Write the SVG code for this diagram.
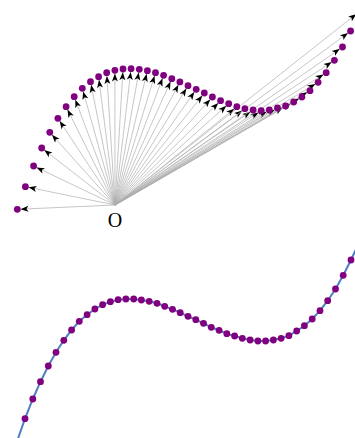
<svg xmlns="http://www.w3.org/2000/svg" width="355" height="438" viewBox="0 0 355 438">
<style>
.conn line{stroke:#adadad;stroke-width:0.7;fill:none;marker-end:url(#ah)}
.pt circle{fill:#800080}
.curve{fill:none;stroke:#4f7fbf;stroke-width:2}
.lbl{font-family:"Liberation Serif",serif;font-size:20px;fill:#000}
</style>
<defs>
<marker id="ah" markerUnits="userSpaceOnUse" markerWidth="12" markerHeight="7" refX="11.2" refY="3" orient="auto" overflow="visible">
<path d="M0,0 L8,3 L0,6 L2,3 z" fill="#000"/>
</marker>
</defs>
<rect width="355" height="438" fill="#fff"/>
<g id="connectors" class="conn">
<line x1="115" y1="205" x2="17.3" y2="209.3"/>
<line x1="115" y1="205" x2="25.4" y2="186.7"/>
<line x1="115" y1="205" x2="33.6" y2="166"/>
<line x1="115" y1="205" x2="41.7" y2="148"/>
<line x1="115" y1="205" x2="49.8" y2="132.3"/>
<line x1="115" y1="205" x2="57.9" y2="118.3"/>
<line x1="115" y1="205" x2="66.1" y2="106.7"/>
<line x1="115" y1="205" x2="74.2" y2="96.7"/>
<line x1="115" y1="205" x2="82.3" y2="88.3"/>
<line x1="115" y1="205" x2="90.5" y2="81.7"/>
<line x1="115" y1="205" x2="98.6" y2="76.7"/>
<line x1="115" y1="205" x2="106.7" y2="72.7"/>
<line x1="115" y1="205" x2="114.9" y2="70.3"/>
<line x1="115" y1="205" x2="123" y2="69"/>
<line x1="115" y1="205" x2="131.1" y2="68.7"/>
<line x1="115" y1="205" x2="139.3" y2="69.3"/>
<line x1="115" y1="205" x2="147.4" y2="70.7"/>
<line x1="115" y1="205" x2="155.5" y2="72.7"/>
<line x1="115" y1="205" x2="163.6" y2="75.3"/>
<line x1="115" y1="205" x2="171.8" y2="78.7"/>
<line x1="115" y1="205" x2="179.9" y2="81.9"/>
<line x1="115" y1="205" x2="188" y2="85.7"/>
<line x1="115" y1="205" x2="196.2" y2="89.3"/>
<line x1="115" y1="205" x2="204.3" y2="93"/>
<line x1="115" y1="205" x2="212.4" y2="97"/>
<line x1="115" y1="205" x2="220.6" y2="100.7"/>
<line x1="115" y1="205" x2="228.7" y2="103.7"/>
<line x1="115" y1="205" x2="236.8" y2="106.7"/>
<line x1="115" y1="205" x2="244.9" y2="108.7"/>
<line x1="115" y1="205" x2="253.1" y2="110"/>
<line x1="115" y1="205" x2="261.2" y2="110.7"/>
<line x1="115" y1="205" x2="269.3" y2="110"/>
<line x1="115" y1="205" x2="277.5" y2="108"/>
<line x1="115" y1="205" x2="285.6" y2="106"/>
<line x1="115" y1="205" x2="293.7" y2="102"/>
<line x1="115" y1="205" x2="301.9" y2="97"/>
<line x1="115" y1="205" x2="310" y2="90.7"/>
<line x1="115" y1="205" x2="318.1" y2="82.3"/>
<line x1="115" y1="205" x2="326.2" y2="72.7"/>
<line x1="115" y1="205" x2="334.4" y2="60.3"/>
<line x1="115" y1="205" x2="342.5" y2="47"/>
<line x1="115" y1="205" x2="350.6" y2="31"/>
<line x1="115" y1="205" x2="358.8" y2="12"/>
</g>
<g id="O"><text class="lbl" x="115" y="227" text-anchor="middle">O</text></g>
<g id="points" class="pt">
<g id="p0"><circle cx="17.3" cy="209.3" r="3.4"/></g>
<g id="p1"><circle cx="25.4" cy="186.7" r="3.4"/></g>
<g id="p2"><circle cx="33.6" cy="166" r="3.4"/></g>
<g id="p3"><circle cx="41.7" cy="148" r="3.4"/></g>
<g id="p4"><circle cx="49.8" cy="132.3" r="3.4"/></g>
<g id="p5"><circle cx="57.9" cy="118.3" r="3.4"/></g>
<g id="p6"><circle cx="66.1" cy="106.7" r="3.4"/></g>
<g id="p7"><circle cx="74.2" cy="96.7" r="3.4"/></g>
<g id="p8"><circle cx="82.3" cy="88.3" r="3.4"/></g>
<g id="p9"><circle cx="90.5" cy="81.7" r="3.4"/></g>
<g id="p10"><circle cx="98.6" cy="76.7" r="3.4"/></g>
<g id="p11"><circle cx="106.7" cy="72.7" r="3.4"/></g>
<g id="p12"><circle cx="114.9" cy="70.3" r="3.4"/></g>
<g id="p13"><circle cx="123" cy="69" r="3.4"/></g>
<g id="p14"><circle cx="131.1" cy="68.7" r="3.4"/></g>
<g id="p15"><circle cx="139.3" cy="69.3" r="3.4"/></g>
<g id="p16"><circle cx="147.4" cy="70.7" r="3.4"/></g>
<g id="p17"><circle cx="155.5" cy="72.7" r="3.4"/></g>
<g id="p18"><circle cx="163.6" cy="75.3" r="3.4"/></g>
<g id="p19"><circle cx="171.8" cy="78.7" r="3.4"/></g>
<g id="p20"><circle cx="179.9" cy="81.9" r="3.4"/></g>
<g id="p21"><circle cx="188" cy="85.7" r="3.4"/></g>
<g id="p22"><circle cx="196.2" cy="89.3" r="3.4"/></g>
<g id="p23"><circle cx="204.3" cy="93" r="3.4"/></g>
<g id="p24"><circle cx="212.4" cy="97" r="3.4"/></g>
<g id="p25"><circle cx="220.6" cy="100.7" r="3.4"/></g>
<g id="p26"><circle cx="228.7" cy="103.7" r="3.4"/></g>
<g id="p27"><circle cx="236.8" cy="106.7" r="3.4"/></g>
<g id="p28"><circle cx="244.9" cy="108.7" r="3.4"/></g>
<g id="p29"><circle cx="253.1" cy="110" r="3.4"/></g>
<g id="p30"><circle cx="261.2" cy="110.7" r="3.4"/></g>
<g id="p31"><circle cx="269.3" cy="110" r="3.4"/></g>
<g id="p32"><circle cx="277.5" cy="108" r="3.4"/></g>
<g id="p33"><circle cx="285.6" cy="106" r="3.4"/></g>
<g id="p34"><circle cx="293.7" cy="102" r="3.4"/></g>
<g id="p35"><circle cx="301.9" cy="97" r="3.4"/></g>
<g id="p36"><circle cx="310" cy="90.7" r="3.4"/></g>
<g id="p37"><circle cx="318.1" cy="82.3" r="3.4"/></g>
<g id="p38"><circle cx="326.2" cy="72.7" r="3.4"/></g>
<g id="p39"><circle cx="334.4" cy="60.3" r="3.4"/></g>
<g id="p40"><circle cx="342.5" cy="47" r="3.4"/></g>
<g id="p41"><circle cx="350.6" cy="31" r="3.4"/></g>
<g id="p42"><circle cx="358.8" cy="12" r="3.4"/></g>
</g>
<g id="bottom-plot">
<polyline class="curve" points="17.2,440.9 25,418.7 32.8,399 40.5,381.7 48.3,366 56,352.3 63.8,340.3 71.6,330 79.3,321.3 87.1,314.7 94.9,309 102.6,304.7 110.4,301.7 118.1,299.7 125.9,299 133.7,299 141.4,300 149.2,301.3 157,303.3 164.7,306.3 172.5,309.3 180.2,312.7 188,316.3 195.8,319.7 203.5,323.3 211.3,327.3 219.1,330.3 226.8,333.7 234.6,336 242.3,338.3 250.1,340 257.9,341 265.6,341 273.4,340 281.1,338.3 288.9,335.7 296.7,331 304.4,325.7 312.2,319 320,310.7 327.7,300.7 335.5,289 343.2,275.3 351,260 358.8,243"/>
<g class="pt">
<circle cx="25" cy="418.7" r="3.4"/><circle cx="32.8" cy="399" r="3.4"/><circle cx="40.5" cy="381.7" r="3.4"/><circle cx="48.3" cy="366" r="3.4"/><circle cx="56" cy="352.3" r="3.4"/><circle cx="63.8" cy="340.3" r="3.4"/><circle cx="71.6" cy="330" r="3.4"/><circle cx="79.3" cy="321.3" r="3.4"/><circle cx="87.1" cy="314.7" r="3.4"/><circle cx="94.9" cy="309" r="3.4"/><circle cx="102.6" cy="304.7" r="3.4"/><circle cx="110.4" cy="301.7" r="3.4"/><circle cx="118.1" cy="299.7" r="3.4"/><circle cx="125.9" cy="299" r="3.4"/><circle cx="133.7" cy="299" r="3.4"/><circle cx="141.4" cy="300" r="3.4"/><circle cx="149.2" cy="301.3" r="3.4"/><circle cx="157" cy="303.3" r="3.4"/><circle cx="164.7" cy="306.3" r="3.4"/><circle cx="172.5" cy="309.3" r="3.4"/><circle cx="180.2" cy="312.7" r="3.4"/><circle cx="188" cy="316.3" r="3.4"/><circle cx="195.8" cy="319.7" r="3.4"/><circle cx="203.5" cy="323.3" r="3.4"/><circle cx="211.3" cy="327.3" r="3.4"/><circle cx="219.1" cy="330.3" r="3.4"/><circle cx="226.8" cy="333.7" r="3.4"/><circle cx="234.6" cy="336" r="3.4"/><circle cx="242.3" cy="338.3" r="3.4"/><circle cx="250.1" cy="340" r="3.4"/><circle cx="257.9" cy="341" r="3.4"/><circle cx="265.6" cy="341" r="3.4"/><circle cx="273.4" cy="340" r="3.4"/><circle cx="281.1" cy="338.3" r="3.4"/><circle cx="288.9" cy="335.7" r="3.4"/><circle cx="296.7" cy="331" r="3.4"/><circle cx="304.4" cy="325.7" r="3.4"/><circle cx="312.2" cy="319" r="3.4"/><circle cx="320" cy="310.7" r="3.4"/><circle cx="327.7" cy="300.7" r="3.4"/><circle cx="335.5" cy="289" r="3.4"/><circle cx="343.2" cy="275.3" r="3.4"/><circle cx="351" cy="260" r="3.4"/>
</g>
</g>
</svg>
